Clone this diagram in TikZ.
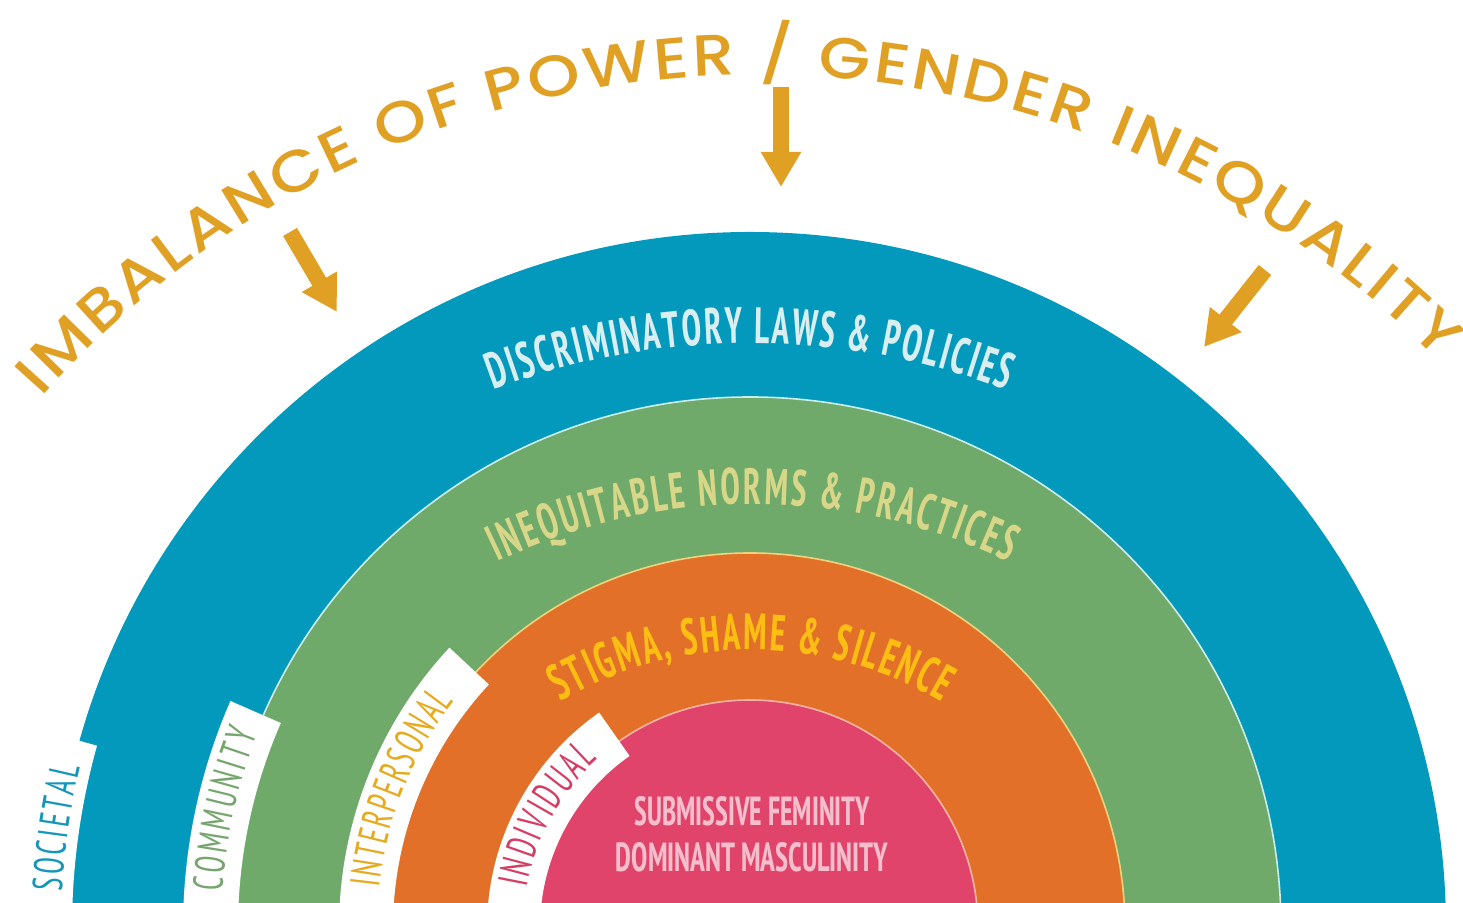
\documentclass[tikz,border=0pt]{standalone}
\usepackage{fontspec}
\usepackage{graphicx}
\usetikzlibrary{decorations.text,arrows.meta}
\newfontfamily\titlefont[FakeStretch=1.15]{Poppins Medium}
\newfontfamily\ringfont[FakeStretch=0.69]{PT Sans Narrow Bold}
\newfontfamily\tabfont[FakeStretch=0.72]{PT Sans Narrow}
\newfontfamily\innerfont{PT Sans Narrow Bold}
\definecolor{cblue}{HTML}{0399BD}
\definecolor{cgreen}{HTML}{6FAA6A}
\definecolor{corange}{HTML}{E27028}
\definecolor{cpink}{HTML}{E0446A}
\definecolor{cgold}{HTML}{DFA024}
\definecolor{tblue}{HTML}{D8EEF0}
\definecolor{tgreen}{HTML}{D8D688}
\definecolor{torange}{HTML}{FDBE14}
\definecolor{tpink}{HTML}{F5BECD}
\definecolor{lsoc}{HTML}{1496B9}
\definecolor{lcom}{HTML}{76A56E}
\definecolor{lint}{HTML}{E6AA1E}
\definecolor{lind}{HTML}{D63C64}
\definecolor{bgreen}{HTML}{CDEDEB}
\definecolor{borange}{HTML}{EFD27E}
\definecolor{bpink}{HTML}{F6B3A6}
\tikzset{
  ringtext/.style 2 args={decorate, decoration={text along path, text align=fit to path, text color=#1,
      text={|\ringfont\fontsize{25.5pt}{28pt}\selectfont|#2}}},
  tabtext/.style 2 args={decorate, decoration={text along path, text align=fit to path, text color=#1,
      text={|\tabfont\fontsize{21pt}{23pt}\selectfont|#2}}},
  goldarrow/.style={color=cgold, line width=8pt, -{Triangle[width=19pt,length=17.5pt]}},
  tabband/.style={fill=white}
}
\begin{document}
\begin{tikzpicture}[x=0.5pt,y=0.5pt]
\useasboundingbox (0,0) rectangle (1463,903);
\clip (0,0) rectangle (1463,903);
\coordinate (C) at (750,-25);
\coordinate (T) at (757,-127);
\coordinate (D1) at (750,-161);
\coordinate (D2) at (753,-195);
\coordinate (D3) at (751,-124);
% rings
\fill[cblue] (C) circle[radius=696];
\filldraw[fill=cgreen, draw=bgreen, line width=0.8pt] (C) circle[radius=531];
\filldraw[fill=corange, draw=borange, line width=0.8pt] (C) circle[radius=375];
\filldraw[fill=cpink, draw=bpink, line width=0.8pt] (C) circle[radius=228];
% white tabs
\fill[tabband] ([shift={(164.4:760)}]C) arc[start angle=164.4,end angle=190,radius=760]
   -- ([shift={(190:678)}]C) arc[start angle=190,end angle=164.4,radius=678] -- cycle;
\fill[tabband] ([shift={(156.4:567)}]C) arc[start angle=156.4,end angle=190,radius=567]
   -- ([shift={(190:512)}]C) arc[start angle=190,end angle=156.4,radius=512] -- cycle;
\fill[tabband] ([shift={(137:411)}]C) arc[start angle=137,end angle=190,radius=411]
   -- ([shift={(190:357)}]C) arc[start angle=190,end angle=137,radius=357] -- cycle;
\fill[tabband] ([shift={(125:263)}]C) arc[start angle=125,end angle=190,radius=263]
   -- ([shift={(190:210)}]C) arc[start angle=190,end angle=125,radius=210] -- cycle;
% tab labels
\path[tabtext={lsoc}{SOCIETAL}] ([shift={(177:689)}]C) arc[start angle=177,end angle=166.5,radius=689];
\path[tabtext={lcom}{COMMUNITY}] ([shift={(176:529)}]C) arc[start angle=176,end angle=158.5,radius=529];
\path[tabtext={lint}{INTERPERSONAL}] ([shift={(173.8:373)}]C) arc[start angle=173.8,end angle=142.5,radius=373];
\path[tabtext={lind}{INDIVIDUAL}] ([shift={(169.8:227)}]C) arc[start angle=169.8,end angle=132,radius=227];
% ring labels
\path[ringtext={tblue}{DISCRIMINATORY LAWS {\&} POLICIES}] ([shift={(110.8:721)}]D1) arc[start angle=110.8,end angle=69.2,radius=721];
\path[ringtext={tgreen}{INEQUITABLE NORMS {\&} PRACTICES}] ([shift={(115.5:594)}]D2) arc[start angle=115.5,end angle=64.5,radius=594];
\path[ringtext={torange}{STIGMA, SHAME {\&} SILENCE}] ([shift={(120.4:377)}]D3) arc[start angle=120.4,end angle=59.6,radius=377];
% centre text
\node[anchor=base, text=tpink, inner sep=0pt] (sub1) at (752,77) {\resizebox{117.5pt}{14.5pt}{\innerfont SUBMISSIVE FEMINITY}};
\node[anchor=base, text=tpink, inner sep=0pt] (sub2) at (752,31) {\resizebox{136pt}{14.5pt}{\innerfont DOMINANT MASCULINITY}};
% title
\path[decorate, decoration={text along path, text align=fit to path, text color=cgold,
   text={|\titlefont\fontsize{29pt}{32pt}\selectfont|IMBALANCE OF POWER / GENDER INEQUALITY}}]
   ([shift={(138.5:955)}]T) arc[start angle=138.5,end angle=44.5,radius=955];
% arrows
\coordinate (a1s) at (290,671);
\coordinate (a1t) at (337,591);
\coordinate (a2s) at (781,816);
\coordinate (a2t) at (781,716);
\coordinate (a3s) at (1265,633);
\coordinate (a3t) at (1204,556);
\draw[goldarrow] (a1s) -- (a1t);
\draw[goldarrow] (a2s) -- (a2t);
\draw[goldarrow] (a3s) -- (a3t);
\end{tikzpicture}
\end{document}
